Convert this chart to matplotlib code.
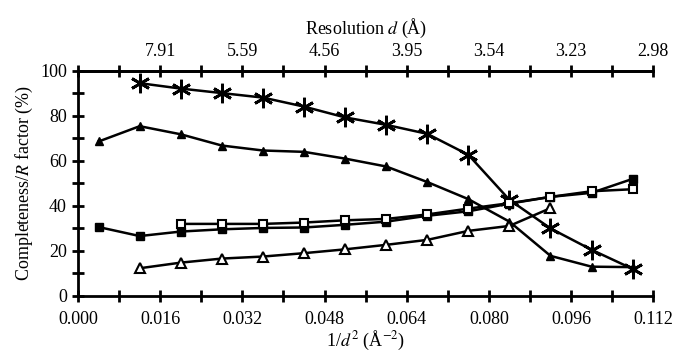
import numpy as np
import matplotlib.pyplot as plt

plt.rcParams['font.family'] = 'Liberation Serif'
plt.rcParams['mathtext.fontset'] = 'stix'

# 1/d^2 bin centres
inv_d2 = [0.004, 0.012, 0.020, 0.028, 0.036, 0.044, 0.052,
          0.060, 0.068, 0.076, 0.084, 0.092, 0.100, 0.108]

filled_tri = [68.6, 75.4, 71.8, 66.8, 64.6, 64.0, 61.0,
              57.5, 50.6, 43.0, 33.0, 17.8, 13.0, 12.8]
stars = [94.5, 92.1, 90.1, 88.1, 84.1, 79.3,
         76.0, 72.0, 62.7, 42.7, 30.0, 20.5, 12.0]
filled_sq = [30.6, 26.6, 28.6, 29.6, 30.2, 30.4, 31.6,
             33.0, 35.6, 37.6, 41.0, 44.0, 45.8, 52.0]
open_sq = [32.0, 32.0, 32.0, 32.6, 33.6,
           34.2, 36.2, 38.8, 41.2, 44.0, 46.5, 47.4]
open_tri = [12.3, 14.8, 16.6, 17.5, 19.0, 20.7,
            22.7, 24.9, 28.9, 31.1, 39.0]

top_ticks = [0.016, 0.032, 0.048, 0.064, 0.080, 0.096, 0.112]
top_labels = ['7.91', '5.59', '4.56', '3.95', '3.54', '3.23', '2.98']

fig = plt.figure(figsize=(6.79, 3.54), dpi=100)
ax = fig.add_axes([0.115, 0.164, 0.847, 0.636])

lw = 1.8
ax.plot(inv_d2, filled_tri, '-^', color='black', lw=lw, ms=6, mfc='black')
ax.plot(inv_d2[1:], stars, '-', marker=(6, 2, 0), color='black', lw=lw,
        ms=14, mew=2)
ax.plot(inv_d2, filled_sq, '-s', color='black', lw=lw, ms=6, mfc='black')
ax.plot(inv_d2[2:], open_sq, '-s', color='black', lw=lw, ms=6, mfc='white',
        mew=1.5)
ax.plot(inv_d2[1:12], open_tri, '-^', color='black', lw=lw, ms=7,
        mfc='white', mew=1.5)

ax.set_xlim(0, 0.112)
ax.set_ylim(0, 100)
ax.set_xticks(np.arange(0, 0.1121, 0.016))
ax.set_xticks(np.arange(0, 0.1121, 0.008), minor=True)
ax.xaxis.set_major_formatter(plt.FuncFormatter(lambda v, p: f'{v:.3f}'))
ax.set_yticks(range(0, 101, 20))
ax.set_yticks(range(0, 101, 10), minor=True)

for s in ['left', 'bottom', 'top']:
    ax.spines[s].set_linewidth(2)
ax.spines['right'].set_visible(False)
ax.tick_params(which='both', direction='inout', width=2, length=9,
               labelsize=13, top=False, right=False)
ax.tick_params(axis='x', pad=6)

ax.set_xlabel('1/$d^2$ (Å$^{-2}$)', fontsize=13, labelpad=1)
ax.set_ylabel('Completeness/$R$ factor (%)', fontsize=13, labelpad=4)

top = ax.twiny()
top.set_xlim(ax.get_xlim())
top.set_xticks(top_ticks)
top.set_xticks(np.arange(0, 0.1121, 0.008), minor=True)
top.set_xticklabels(top_labels)
top.tick_params(which='both', direction='inout', width=2, length=9,
                labelsize=13)
top.spines['top'].set_linewidth(2)
for s in ['left', 'bottom', 'right']:
    top.spines[s].set_visible(False)
top.set_xlabel('Resolution $d$ (Å)', fontsize=13, labelpad=6)

fig.savefig('out.png', dpi=100)
